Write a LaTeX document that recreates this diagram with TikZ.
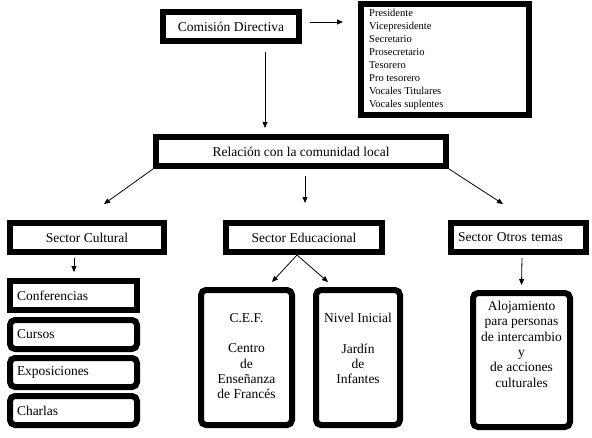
\documentclass[tikz,border=0pt]{standalone}
\usepackage{fontspec}
\setmainfont{Liberation Serif}
\usetikzlibrary{arrows.meta}
\newcommand{\mainf}{\fontsize{13.5}{15.3}\selectfont}
\newcommand{\listf}{\fontsize{10.5}{12.9}\selectfont}
\tikzset{
  box/.style={draw=black, line width=6pt, fill=white, inner sep=0pt, font=\mainf, align=center},
  rbox/.style={box, rounded corners=5pt},
  lbox/.style={box, align=left, inner xsep=7pt},
  txt/.style={inner sep=0pt, font=\mainf, align=center, anchor=north},
  arr/.style={line width=0.8pt, -{Triangle[length=6pt,width=5pt]}}
}
\begin{document}
\begin{tikzpicture}[x=1pt,y=-1pt]
\useasboundingbox (0,0) rectangle (592,437);
% top
\node[box, minimum width=136pt, minimum height=29pt] (com) at (231,26.5) {Comisión Directiva};
\node[box, minimum width=168pt, minimum height=111pt] (list) at (445,59.5) {};
\node[inner sep=0pt, anchor=north west, align=left, font=\listf] (listT) at (369,9.5)
  {Presidente\\Vicepresidente\\Secretario\\Prosecretario\\Tesorero\\Pro tesorero\\Vocales Titulares\\Vocales suplentes};
\node[box, minimum width=290pt, minimum height=29pt] (rel) at (301,151.5) {Relación con la comunidad local};
% sectors
\node[box, minimum width=154pt, minimum height=29pt] (cul) at (87,237.5) {Sector Cultural};
\node[box, minimum width=156pt, minimum height=29pt] (edu) at (304,237.5) {Sector Educacional};
\node[lbox, text width=121pt, minimum height=29pt] (otr) at (518.5,237.5) {Sector Otros temas};
% cultural items
\node[lbox, text width=113pt, minimum height=29pt] (conf) at (73.5,295.5) {Conferencias};
\node[lbox, rounded corners=5pt, text width=113pt, minimum height=29pt] (cur) at (73.5,334.5) {Cursos};
\node[lbox, rounded corners=5pt, text width=113pt, minimum height=29pt] (exp) at (73.5,372.5) {Exposiciones};
\node[lbox, rounded corners=5pt, text width=113pt, minimum height=29pt] (cha) at (73.5,410.5) {Charlas};
% educational
\node[rbox, minimum width=91pt, minimum height=135pt] (cef) at (246.5,357.5) {};
\node[txt] (cefT) at (246.5,313) {C.E.F.\\[15.3pt]Centro\\de\\Enseñanza\\de Francés};
\node[rbox, minimum width=84pt, minimum height=135pt] (niv) at (358,357.5) {};
\node[txt] (nivT) at (358,313) {Nivel Inicial\\[15.3pt]Jardín\\de\\Infantes};
% otros
\node[rbox, minimum width=97pt, minimum height=134pt] (alo) at (521.5,360) {};
\node[txt] (aloT) at (521.5,301) {Alojamiento\\para personas\\de intercambio\\y\\de acciones\\culturales};
% connectors
\draw[arr] ([xshift=8pt,yshift=4.5pt]com.east) -- ([xshift=-15pt,yshift=4.5pt]com.east -| list.west);
\draw[arr] ([xshift=34pt,yshift=-8pt]com.south) -- ([xshift=-36pt,yshift=6pt]rel.north);
\draw[arr] (rel.south west) -- ([xshift=17pt,yshift=16pt]cul.north);
\draw[arr] ([xshift=4pt,yshift=-7pt]rel.south) -- ([xshift=1pt,yshift=17pt]edu.north);
\draw[arr] (rel.south east) -- ([xshift=-15.5pt,yshift=16pt]otr.north);
\draw[arr] ([xshift=-13pt,yshift=-3pt]cul.south) -- ([xshift=0.5pt,yshift=6pt]conf.north);
\draw[arr] ([xshift=-7pt]edu.south) -- ([xshift=25.5pt,yshift=5pt]cef.north);
\draw[arr] ([xshift=-7pt]edu.south) -- ([xshift=-30pt,yshift=5pt]niv.north);
\draw[arr] ([xshift=3.5pt,yshift=-3pt]otr.south) -- ([yshift=5pt]alo.north);
\end{tikzpicture}
\end{document}
